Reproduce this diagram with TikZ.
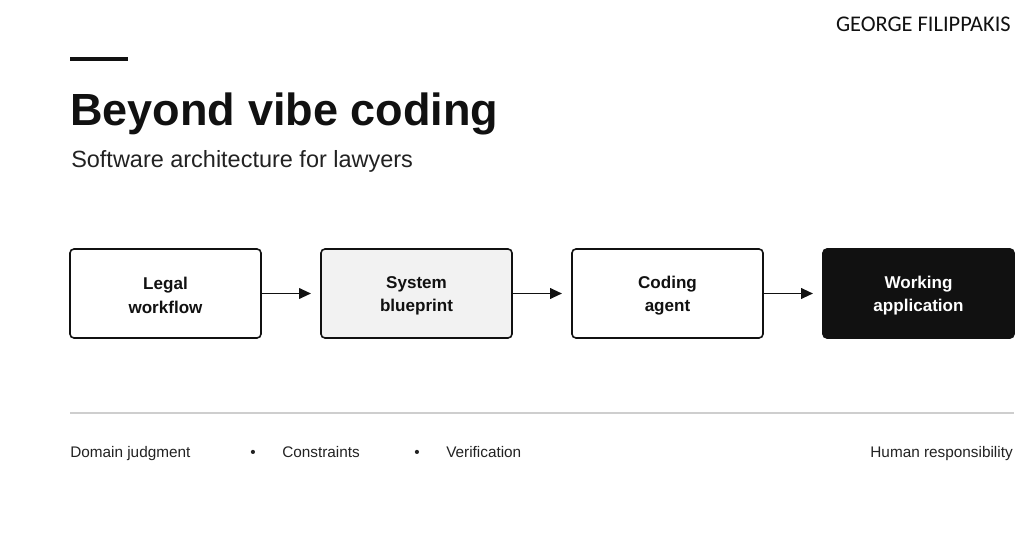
\documentclass[tikz,border=0pt]{standalone}
\usepackage{fontspec}
\setmainfont{Liberation Sans}
\newfontfamily\namefont{Carlito}
\usetikzlibrary{arrows.meta,positioning}
\definecolor{inkblack}{RGB}{17,17,17}
\definecolor{softgray}{RGB}{242,242,242}
\definecolor{rulegray}{RGB}{206,206,206}
\definecolor{textgray}{RGB}{34,34,34}

\tikzset{
  stage/.style={draw=inkblack, line width=1.2pt, rounded corners=3pt, outer sep=0pt,
    minimum width=143.25pt, minimum height=66.75pt, align=center,
    text=inkblack, font=\bfseries\fontsize{12.8}{17.6}\selectfont},
  footnote/.style={inner sep=0pt, anchor=base west, text=textgray,
    font=\fontsize{11.5}{13}\selectfont},
  flowarrow/.style={line width=1.4pt, draw=inkblack,
    -{Triangle[length=9pt,width=8pt]}, shorten >=7.5pt}
}

\begin{document}
\begin{tikzpicture}[x=0.75pt,y=-0.75pt,node distance=45pt]
  \fill[white] (0,0) rectangle (1024,538);
  % heading
  \node[inner sep=0pt, anchor=base east, text=inkblack,
    font=\namefont\fontsize{16.8}{18}\selectfont] (author) at (1011,32) {GEORGE FILIPPAKIS};
  \draw[inkblack, line width=2.3pt] (70,59) -- (128,59);
  \node[inner sep=0pt, anchor=base west, text=inkblack,
    font=\bfseries\fontsize{33.8}{38}\selectfont] (title) at (70,126) {Beyond vibe coding};
  \node[inner sep=0pt, anchor=base west, text=textgray,
    font=\fontsize{17.6}{20}\selectfont] (subtitle) at (71,168) {Software architecture for lawyers};
  % pipeline
  \node[stage] (flow) at (165.5,293.5) {\strut Legal\\workflow};
  \node[stage, fill=softgray, right=of flow] (blueprint) {\strut System\\blueprint};
  \node[stage, right=of blueprint] (agent) {\strut Coding\\agent};
  \node[stage, fill=inkblack, text=white, right=of agent] (app) {\strut Working\\application};
  \foreach \a/\b in {flow/blueprint,blueprint/agent,agent/app}
    \draw[flowarrow] (\a.east) -- (\b.west);
  % footer
  \coordinate (ruleL) at (70,413);
  \coordinate (ruleR) at (1014,413);
  \draw[rulegray, line width=1.1pt] (ruleL) -- (ruleR);
  \node[footnote] (judgment) at (70,457) {Domain judgment};
  \node[footnote] (constraints) at (282,457) {Constraints};
  \node[footnote] (verification) at (446,457) {Verification};
  \foreach \x/\n in {253/dotA,417/dotB}
    \node[footnote, anchor=base] (\n) at (\x,457) {\textbullet};
  \node[footnote, anchor=base east] (human) at (1013,457) {Human responsibility};
\end{tikzpicture}
\end{document}
